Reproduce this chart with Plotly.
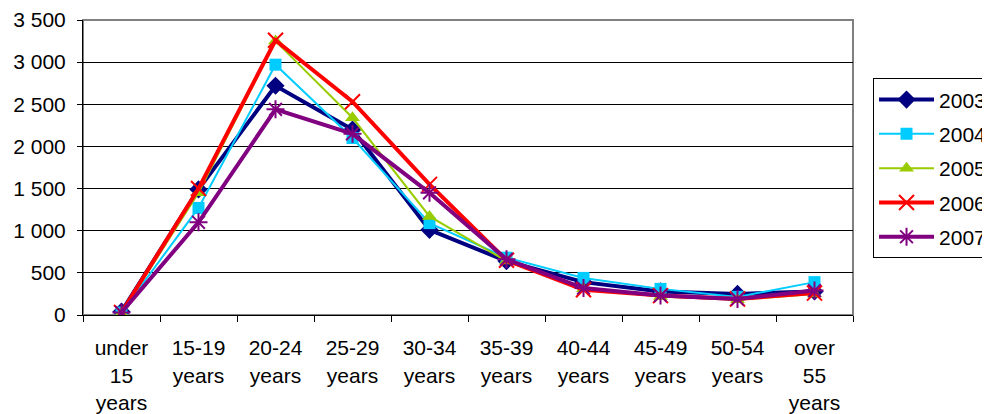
import plotly.graph_objects as go

categories = ["under<br>15<br>years", "15-19<br>years", "20-24<br>years", "25-29<br>years",
              "30-34<br>years", "35-39<br>years", "40-44<br>years", "45-49<br>years",
              "50-54<br>years", "over<br>55<br>years"]
y2003 = [40, 1490, 2720, 2200, 1010, 640, 390, 280, 250, 280]
y2004 = [30, 1270, 2970, 2100, 1090, 680, 440, 310, 215, 390]
y2005 = [20, 1450, 3250, 2340, 1170, 640, 310, 220, 180, 250]
y2006 = [30, 1500, 3260, 2530, 1550, 650, 300, 230, 190, 260]
y2007 = [30, 1100, 2440, 2150, 1450, 660, 320, 230, 190, 290]
yticks = [0, 500, 1000, 1500, 2000, 2500, 3000, 3500]

series = [
    ("2003", y2003, "#000080", 4, "diamond", 14, None),
    ("2004", y2004, "#00CCFF", 2, "square", 12, None),
    ("2005", y2005, "#99CC00", 2, "triangle-up", 13, None),
    ("2006", y2006, "#FF0000", 4, "x-thin-open", 15, 2),
    ("2007", y2007, "#800080", 4, "asterisk-open", 15, 2),
]

fig = go.Figure()
for name, ys, color, lw, sym, ms, mlw in series:
    marker = dict(symbol=sym, size=ms, color=color)
    if mlw:
        marker["line"] = dict(color=color, width=mlw)
    fig.add_trace(go.Scatter(x=categories, y=ys, name=name, mode="lines+markers",
                             legendgroup=name,
                             line=dict(color=color, width=lw), marker=marker))

fig.add_shape(type="rect", xref="x domain", yref="y domain", x0=0, x1=1, y0=0, y1=1,
              line=dict(color="#808080", width=2), layer="below")

fig.update_layout(
    width=982, height=406,
    margin=dict(l=75, r=137, t=12, b=99, autoexpand=False),
    paper_bgcolor="white", plot_bgcolor="white",
    font=dict(family="Liberation Sans, Arial, sans-serif", size=21, color="black"),
    separators=". ",
    showlegend=True,
    legend=dict(x=1.026, y=0.802, xanchor="left", yanchor="top",
                bordercolor="black", borderwidth=1, bgcolor="white",
                font=dict(size=21), tracegroupgap=4, itemwidth=55),
    xaxis=dict(type="category", tickson="boundaries", ticks="outside", ticklen=6,
               tickcolor="black", showline=True, linecolor="black", linewidth=1,
               showgrid=False, zeroline=False, range=[-0.5, 9.5], tickangle=0,
               automargin=False, ticklabelstandoff=14),
    yaxis=dict(range=[0, 3500], tickvals=yticks, tickformat=",d", ticks="outside",
               ticklen=5, tickcolor="black", showline=True, linecolor="black",
               linewidth=1, showgrid=True, gridcolor="black", gridwidth=1,
               zeroline=False, automargin=False, ticklabelstandoff=7),
)

fig.write_html("out.html")
